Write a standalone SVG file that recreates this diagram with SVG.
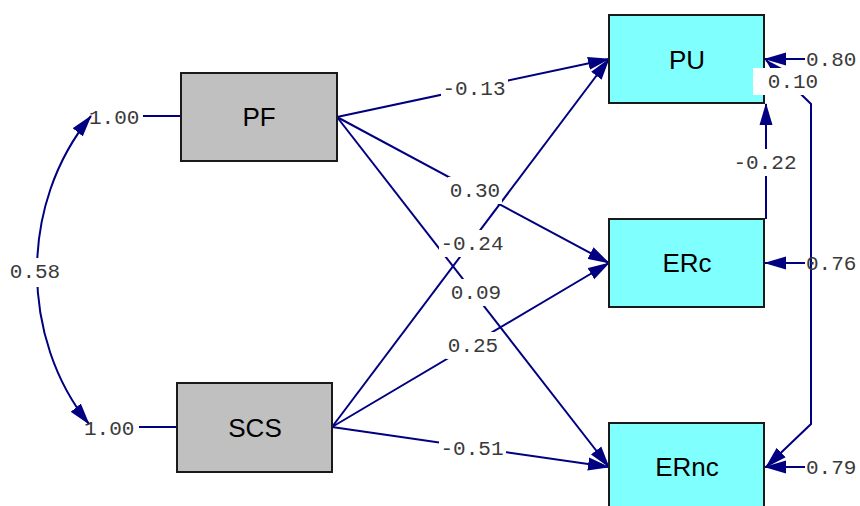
<svg xmlns="http://www.w3.org/2000/svg" width="860" height="506" viewBox="0 0 860 506">
<defs>
<marker id="ah" markerUnits="userSpaceOnUse" markerWidth="22" markerHeight="14" viewBox="0 0 22 14" refX="21" refY="7" orient="auto-start-reverse">
<path d="M0,0.5 L22,7 L0,13.5 z" fill="#000080"/>
</marker>
<style>
.obs{fill:#c0c0c0;stroke:#1a1a1a;stroke-width:2}
.lat{fill:#80ffff;stroke:#1a1a1a;stroke-width:2}
.nt{font-family:"Liberation Sans",Arial,sans-serif;font-size:26px;fill:#000;text-anchor:middle}
.e{stroke:#000080;stroke-width:2;fill:none}
.lb{fill:#fff}
.lt{font-family:"Liberation Mono","Courier New",monospace;font-size:21px;fill:#3a3a3a;text-anchor:middle}
.lts{font-family:"Liberation Mono","Courier New",monospace;font-size:21px;fill:#3a3a3a;text-anchor:start}
</style>
</defs>
<rect width="860" height="506" fill="#fff"/>
<g id="connectors">
<line class="e" x1="337" y1="117" x2="609" y2="59" marker-end="url(#ah)"/>
<line class="e" x1="337" y1="117" x2="609" y2="263" marker-end="url(#ah)"/>
<line class="e" x1="337" y1="117" x2="609" y2="467" marker-end="url(#ah)"/>
<line class="e" x1="332" y1="427" x2="609" y2="59" marker-end="url(#ah)"/>
<line class="e" x1="332" y1="427" x2="609" y2="263" marker-end="url(#ah)"/>
<line class="e" x1="332" y1="427" x2="609" y2="467" marker-end="url(#ah)"/>
<line class="e" x1="766" y1="219" x2="766" y2="104" marker-end="url(#ah)"/>
<path class="e" d="M766,467 L811,424 L811,104 L766,60" marker-start="url(#ah)" marker-end="url(#ah)"/>
<line class="e" x1="805" y1="59" x2="765" y2="59" marker-end="url(#ah)"/>
<line class="e" x1="805" y1="263" x2="765" y2="263" marker-end="url(#ah)"/>
<line class="e" x1="805" y1="467" x2="765" y2="467" marker-end="url(#ah)"/>
<path class="e" d="M91,116 C55,160 37,215 37,271 C37,327 55,382 89,424" marker-start="url(#ah)" marker-end="url(#ah)"/>
<line class="e" x1="143" y1="116" x2="181" y2="116"/>
<line class="e" x1="139" y1="427" x2="177" y2="427"/>
</g>
<g id="PF"><rect class="obs" x="181" y="73" width="156" height="88"/><text class="nt" x="259" y="126">PF</text></g>
<g id="SCS"><rect class="obs" x="177" y="383" width="155" height="89"/><text class="nt" x="255" y="437">SCS</text></g>
<g id="PU"><rect class="lat" x="609" y="15" width="155" height="88"/><text class="nt" x="687" y="69">PU</text></g>
<g id="ERc"><rect class="lat" x="609" y="219" width="155" height="88"/><text class="nt" x="687" y="272">ERc</text></g>
<g id="ERnc"><rect class="lat" x="609" y="423" width="155" height="88"/><text class="nt" x="687" y="476">ERnc</text></g>
<g id="labels">
<rect class="lb" x="441" y="75" width="67" height="27"/><text class="lt" x="474" y="95">-0.13</text>
<rect class="lb" x="448" y="177" width="54" height="27"/><text class="lt" x="475" y="197">0.30</text>
<rect class="lb" x="439" y="230" width="67" height="27"/><text class="lt" x="472" y="250">-0.24</text>
<rect class="lb" x="449" y="279" width="54" height="27"/><text class="lt" x="476" y="299">0.09</text>
<rect class="lb" x="446" y="332" width="54" height="27"/><text class="lt" x="473" y="352">0.25</text>
<rect class="lb" x="439" y="435" width="67" height="27"/><text class="lt" x="472" y="455">-0.51</text>
<rect class="lb" x="732" y="149" width="67" height="27"/><text class="lt" x="765" y="169">-0.22</text>
<rect class="lb" x="753" y="68" width="68" height="27"/><text class="lt" x="793" y="88">0.10</text>
<rect class="lb" x="8" y="258" width="55" height="29"/><text class="lt" x="35" y="278">0.58</text>
<text class="lts" x="89" y="124">1.00</text>
<text class="lts" x="84" y="435">1.00</text>
<text class="lts" x="806" y="66">0.80</text>
<text class="lts" x="806" y="270">0.76</text>
<text class="lts" x="806" y="474">0.79</text>
</g>
</svg>
